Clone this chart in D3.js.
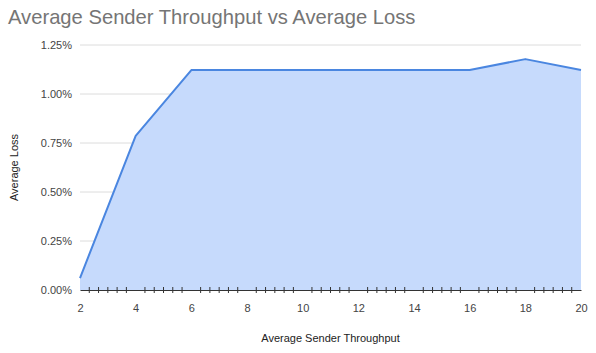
<!DOCTYPE html>
<html>
<head>
<meta charset="utf-8">
<script src="https://cdn.jsdelivr.net/npm/d3@7"></script>
<style>
  body { margin: 0; background: #fff; }
  text { font-family: Arial, "Liberation Sans", sans-serif; }
</style>
</head>
<body>
<div id="holder"></div>
<script>
const w = 596;
const h = 353;

// Data
const throughput = [2, 4, 6, 8, 10, 12, 14, 16, 18, 20];
const avgLoss = [0.061, 0.786, 1.122, 1.122, 1.122, 1.122, 1.122, 1.122, 1.178, 1.122];
const xTicks = [2, 4, 6, 8, 10, 12, 14, 16, 18, 20];
const yTicks = [0, 0.25, 0.5, 0.75, 1.0, 1.25];

const data = throughput.map((t, i) => ({ x: t, y: avgLoss[i] }));

const svg = d3.select("#holder")
    .append("svg")
    .attr("width", w)
    .attr("height", h);

// Scales
const x = d3.scaleLinear().domain([2, 20]).range([80, 581]);
const y = d3.scaleLinear().domain([0, 1.25]).range([290, 45]);

// Title
svg.append("text")
    .attr("x", 8)
    .attr("y", 24)
    .attr("font-size", 20.2)
    .attr("fill", "#757575")
    .text("Average Sender Throughput vs Average Loss");

// Gridlines
svg.append("g")
    .selectAll("line")
    .data(yTicks.slice(1))
    .join("line")
    .attr("x1", x(2))
    .attr("x2", x(20))
    .attr("y1", d => y(d))
    .attr("y2", d => y(d))
    .attr("stroke", "#dcdcdc")
    .attr("stroke-width", 1);

// Area + line
const area = d3.area()
    .x(d => x(d.x))
    .y0(y(0))
    .y1(d => y(d.y));

const line = d3.line()
    .x(d => x(d.x))
    .y(d => y(d.y));

svg.append("path")
    .datum(data)
    .attr("d", area)
    .attr("fill", "#c6dafc");

svg.append("path")
    .datum(data)
    .attr("d", line)
    .attr("fill", "none")
    .attr("stroke", "#4a86e0")
    .attr("stroke-width", 2)
    .attr("stroke-linejoin", "round");

// Y axis labels
const yAxis = d3.axisLeft(y)
    .tickValues(yTicks)
    .tickSize(0)
    .tickPadding(8)
    .tickFormat(d => d3.format(".2f")(d) + "%");

svg.append("g")
    .attr("transform", `translate(${x(2)},0)`)
    .call(yAxis)
    .call(g => g.select(".domain").remove())
    .call(g => g.selectAll("text")
        .attr("font-size", 11)
        .attr("fill", "#444")
        .attr("font-family", "Arial, 'Liberation Sans', sans-serif"));

// Minor ticks on x axis (every 1/3, skipping major positions)
const minor = d3.range(0, 55).filter(j => j % 6 !== 0).map(j => 2 + j / 3);
svg.append("g")
    .selectAll("line")
    .data(minor)
    .join("line")
    .attr("x1", d => x(d))
    .attr("x2", d => x(d))
    .attr("y1", y(0) - 3)
    .attr("y2", y(0) + 3)
    .attr("stroke", "#333")
    .attr("stroke-width", 1);

// X axis
const xAxis = d3.axisBottom(x)
    .tickValues(xTicks)
    .tickSize(0)
    .tickPadding(14);

svg.append("g")
    .attr("transform", `translate(0,${y(0)})`)
    .call(xAxis)
    .call(g => g.select(".domain").attr("stroke", "#333"))
    .call(g => g.selectAll("text")
        .attr("font-size", 11)
        .attr("fill", "#444")
        .attr("font-family", "Arial, 'Liberation Sans', sans-serif"));

// Axis titles
svg.append("text")
    .attr("x", (x(2) + x(20)) / 2)
    .attr("y", 342)
    .attr("text-anchor", "middle")
    .attr("font-size", 11)
    .attr("fill", "#222")
    .text("Average Sender Throughput");

svg.append("text")
    .attr("transform", `translate(18,${(y(0) + y(1.25)) / 2}) rotate(-90)`)
    .attr("text-anchor", "middle")
    .attr("font-size", 11)
    .attr("fill", "#222")
    .text("Average Loss");
</script>
</body>
</html>
